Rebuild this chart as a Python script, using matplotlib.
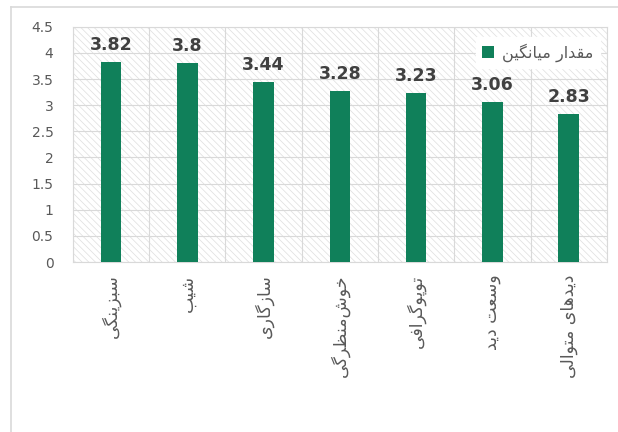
import matplotlib.pyplot as plt
import matplotlib.lines as mlines
from matplotlib.patches import Rectangle
import numpy as np

# data
categories = ['سبزینگی', 'شیب', 'سازگاری', 'خوش\u200cمنظرگی', 'توپوگرافی', 'وسعت دید', 'دیدهای متوالی']
values = [3.82, 3.8, 3.44, 3.28, 3.23, 3.06, 2.83]
legend_label = 'مقدار میانگین'
yticks = [0, 0.5, 1, 1.5, 2, 2.5, 3, 3.5, 4, 4.5]

# small persian shaper (matplotlib does no arabic shaping / rtl)
# char: (isolated, final, initial, medial); 2-tuple -> right-joining only
FORMS = {
    'ا': (0xFE8D, 0xFE8E), 'د': (0xFEA9, 0xFEAA), 'ر': (0xFEAD, 0xFEAE),
    'ز': (0xFEAF, 0xFEB0), 'و': (0xFEED, 0xFEEE),
    'ب': (0xFE8F, 0xFE90, 0xFE91, 0xFE92), 'پ': (0xFB56, 0xFB57, 0xFB58, 0xFB59),
    'ت': (0xFE95, 0xFE96, 0xFE97, 0xFE98), 'خ': (0xFEA5, 0xFEA6, 0xFEA7, 0xFEA8),
    'س': (0xFEB1, 0xFEB2, 0xFEB3, 0xFEB4), 'ش': (0xFEB5, 0xFEB6, 0xFEB7, 0xFEB8),
    'ظ': (0xFEC5, 0xFEC6, 0xFEC7, 0xFEC8), 'ع': (0xFEC9, 0xFECA, 0xFECB, 0xFECC),
    'ف': (0xFED1, 0xFED2, 0xFED3, 0xFED4), 'ق': (0xFED5, 0xFED6, 0xFED7, 0xFED8),
    'گ': (0xFB92, 0xFB93, 0xFB94, 0xFB95), 'ل': (0xFEDD, 0xFEDE, 0xFEDF, 0xFEE0),
    'م': (0xFEE1, 0xFEE2, 0xFEE3, 0xFEE4), 'ن': (0xFEE5, 0xFEE6, 0xFEE7, 0xFEE8),
    'ه': (0xFEE9, 0xFEEA, 0xFEEB, 0xFEEC), 'ی': (0xFBFC, 0xFBFD, 0xFBFE, 0xFBFF),
}


def fa(s):
    out = []
    for i, c in enumerate(s):
        if c not in FORMS:
            if c != '\u200c':
                out.append(c)
            continue
        prev = s[i - 1] if i > 0 else ''
        nxt = s[i + 1] if i + 1 < len(s) else ''
        jp = prev in FORMS and len(FORMS[prev]) == 4
        jn = len(FORMS[c]) == 4 and nxt in FORMS
        f = FORMS[c]
        if jp and jn:
            out.append(chr(f[3]))
        elif jp:
            out.append(chr(f[1]))
        elif jn:
            out.append(chr(f[2]))
        else:
            out.append(chr(f[0]))
    return ''.join(out[::-1])


plt.rcParams['font.family'] = ['DejaVu Sans']
plt.rcParams['hatch.linewidth'] = 0.5

fig = plt.figure(figsize=(6.18, 4.32), dpi=100)
ax = fig.add_axes([0.118, 0.3935, 0.864, 0.5445])

x = np.arange(len(categories))
bars = ax.bar(x, values, width=0.27, color='#10805a', zorder=3, label=fa(legend_label))

# hatched plot-area background
ax.add_patch(Rectangle((0, 0), 1, 1, transform=ax.transAxes, facecolor='white',
                       edgecolor='#dedede', hatch='\\\\\\\\\\', lw=0, zorder=0))

for xi, v in zip(x, values):
    ax.annotate(f'{v:g}', (xi, v), xytext=(0, 8.6), textcoords='offset points',
                ha='center', va='baseline', fontsize=12.5, fontweight='bold', color='#404040')

ax.set_xlim(-0.5, len(categories) - 0.5)
ax.set_ylim(0, 4.5)
ax.set_yticks(yticks)
ax.set_yticklabels([f'{t:g}' for t in yticks])
ax.set_xticks(x)
ax.set_xticklabels([fa(c) for c in categories], rotation=90, fontsize=12.5, color='#595959')
ax.set_xticks(np.arange(len(categories) + 1) - 0.5, minor=True)
ax.tick_params(axis='y', length=0, pad=14, labelsize=10, labelcolor='#595959')
ax.tick_params(axis='x', which='both', length=0, pad=9)
ax.grid(True, axis='y', color='#d9d9d9', lw=0.8, zorder=1)
ax.grid(True, axis='x', which='minor', color='#d9d9d9', lw=0.8, zorder=1)
for sp in ax.spines.values():
    sp.set_color('#d9d9d9')
    sp.set_linewidth(0.8)

leg = ax.legend(loc='upper right', bbox_to_anchor=(1 - 7 / 534, 1 - 10 / 235), borderaxespad=0,
                fontsize=11.5, frameon=True, fancybox=False, framealpha=1, edgecolor='white',
                handlelength=0.75, handleheight=0.75, handletextpad=0.5, borderpad=0.4)
for t in leg.get_texts():
    t.set_color('#595959')

# chart-area border (only top and left visible in reference)
fig.add_artist(mlines.Line2D([11 / 618, 1], [1 - 7 / 432, 1 - 7 / 432], color='#d9d9d9', lw=1.2,
                             transform=fig.transFigure))
fig.add_artist(mlines.Line2D([11 / 618, 11 / 618], [0, 1 - 7 / 432], color='#d9d9d9', lw=1.2,
                             transform=fig.transFigure))

fig.savefig('out.png', dpi=100)
